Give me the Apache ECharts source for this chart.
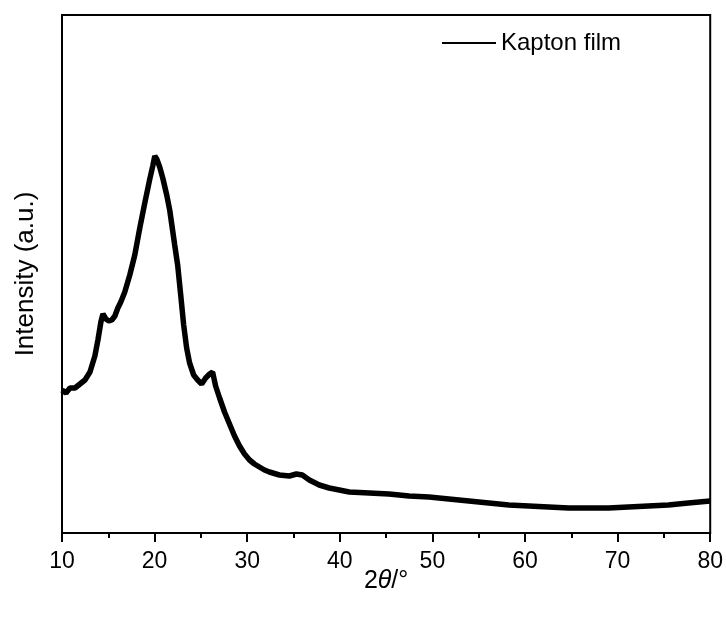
<!DOCTYPE html>
<html>
<head>
<meta charset="utf-8">
<script src="https://cdn.jsdelivr.net/npm/echarts@6/dist/echarts.min.js"></script>
<style>html,body{margin:0;padding:0;background:#fff}#c{width:726px;height:617px}</style>
</head>
<body>
<div id="c"></div>
<script>
var seriesName = 'Kapton film';
var twoTheta = [10.00,10.43,10.86,11.40,11.94,12.48,13.02,13.55,13.88,14.20,14.42,14.74,15.06,15.38,15.71,16.03,16.35,16.78,17.32,17.86,18.40,18.94,19.48,19.80,20.02,20.23,20.55,20.88,21.31,21.63,22.17,22.49,22.82,23.14,23.46,23.78,24.22,24.65,25.08,25.51,25.94,26.26,26.59,27.02,27.55,28.09,28.63,29.17,29.71,30.25,30.78,31.32,31.86,32.40,33.48,34.55,35.31,35.95,36.71,37.78,38.86,39.94,41.02,43.17,45.32,47.48,49.63,51.78,53.94,56.09,58.25,60.40,62.55,64.71,66.86,69.02,71.17,73.32,75.48,77.63,80.00];
var intensity = [143,140,145,145,149,153,161,177,193,211,219,214,212,213,217,225,231,241,258,278,305,330,354,367,377,374,366,355,338,323,288,268,238,208,185,170,158,153,149,155,159,161,147,135,121,109,97,87,79,73,69,66,63,61,58,57,59,58,53,48,45,43,41,40,39,37,36,34,32,30,28,27,26,25,25,25,26,27,28,30,32];
var xTicks = [10,20,30,40,50,60,70,80];

var data = twoTheta.map(function(t,i){return [t, intensity[i]];});
var chart = echarts.init(document.getElementById('c'));
var font = 'Liberation Sans, Arial, sans-serif';
chart.setOption({
  animation:false,
  backgroundColor:'#fff',
  grid:{left:62,right:14,top:15,bottom:84,show:true,borderColor:'#000',borderWidth:2},
  legend:{
    left:437, top:26, itemWidth:54, itemHeight:14, itemGap:5,
    textStyle:{fontFamily:font,fontSize:24,color:'#000'},
    lineStyle:{width:2},
    data:[{name:seriesName,icon:'path://M0,0 L54,0 L54,2 L0,2 Z'}]
  },
  xAxis:{
    type:'value', min:xTicks[0], max:xTicks[xTicks.length-1], interval:10,
    name:'{n|2}{i|θ}{n|/°}', nameLocation:'middle', nameGap:36, nameMoveOverlap:false,
    nameTextStyle:{rich:{n:{fontFamily:font,fontSize:25,color:'#000'},i:{fontFamily:font,fontSize:25,fontStyle:'italic',color:'#000'}}},
    axisLine:{show:true,onZero:false,lineStyle:{color:'#000',width:2}},
    axisTick:{show:true,inside:false,length:9,lineStyle:{color:'#000',width:2}},
    minorTick:{show:true,splitNumber:2,length:5,lineStyle:{color:'#000',width:2}},
    axisLabel:{fontFamily:font,fontSize:23,color:'#000',margin:17},
    splitLine:{show:false}
  },
  yAxis:{
    type:'value', min:0, max:518,
    name:'Intensity (a.u.)', nameLocation:'middle', nameGap:23,
    nameTextStyle:{fontFamily:font,fontSize:26,color:'#000'},
    axisLine:{show:true,lineStyle:{color:'#000',width:2}},
    axisTick:{show:false}, axisLabel:{show:false}, splitLine:{show:false}
  },
  series:[{
    name:seriesName, type:'line', data:data, showSymbol:false, symbol:'none',
    lineStyle:{color:'#000',width:5.5}, itemStyle:{color:'#000'}
  }]
});
</script>
</body>
</html>
